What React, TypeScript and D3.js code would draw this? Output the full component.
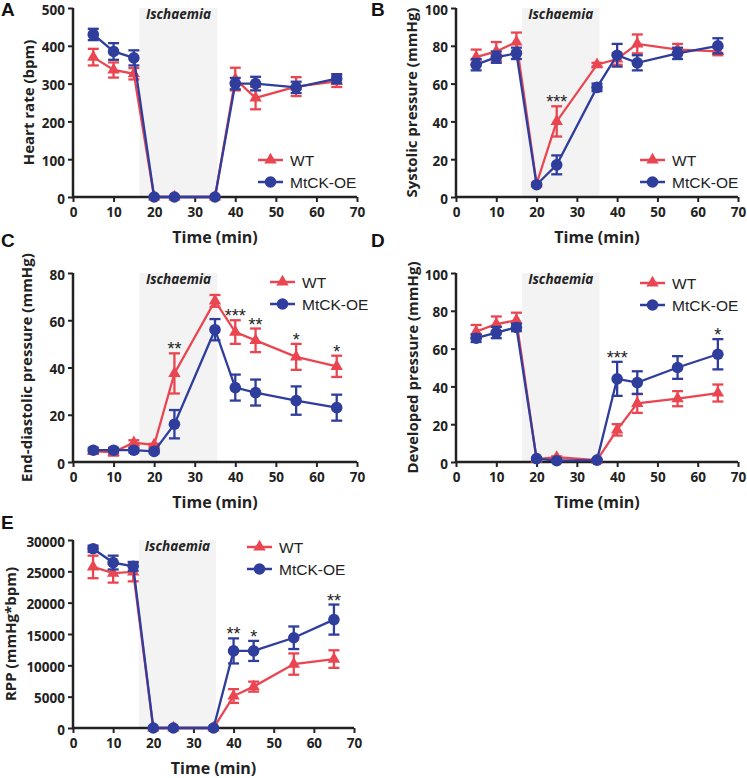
import React, { useRef, useEffect } from "react";
import * as d3 from "d3";

const times = [5, 10, 15, 20, 25, 35, 40, 45, 55, 65];
const xTicks = [0, 10, 20, 30, 40, 50, 60, 70];
const seriesNames = ["WT", "MtCK-OE"];

const hrWT = [370, 336, 326, 0, 0, 0, 312, 262, 292, 306];
const hrWTErr = [22, 20, 15, 0, 0, 0, 30, 30, 25, 15];
const hrKO = [430, 385, 368, 0, 0, 0, 300, 300, 290, 313];
const hrKOErr = [15, 22, 20, 0, 0, 0, 15, 18, 15, 12];

const sysWT = [74, 77, 82, 7, 40, 70, 73, 81, 78, 77];
const sysWTErr = [4, 5, 5, 0.5, 8, 1, 3, 5, 3, 2];
const sysKO = [70, 74, 76, 6.5, 17, 58, 75, 71, 76, 80];
const sysKOErr = [3, 3, 3, 0.5, 5, 2, 6, 4, 3, 4];
const sysStars = [{ t: 25, s: "***" }];

const edpWT = [4.5, 4.2, 8.2, 7.2, 37.5, 68.2, 55, 51.5, 44.5, 40.5];
const edpWTErr = [1, 1.5, 1, 0.5, 8.5, 2.5, 5, 5, 5.5, 4.5];
const edpKO = [5, 5, 5, 4.5, 16, 56, 31.5, 29.4, 26, 23];
const edpKOErr = [1, 1, 1, 0.8, 6, 4.5, 5.5, 5.5, 6, 5.5];
const edpStars = [
	{ t: 25, s: "**" },
	{ t: 40, s: "***" },
	{ t: 45, s: "**" },
	{ t: 55, s: "*" },
	{ t: 65, s: "*" },
];

const devWT = [69, 73, 75, 1.5, 2.5, 1, 17, 31, 33.5, 36.5];
const devWTErr = [3.5, 4, 4, 0.5, 0.5, 0.3, 3, 5, 4, 4.5];
const devKO = [65.5, 68.5, 71.2, 1.8, 0.7, 1, 44, 42, 50, 57];
const devKOErr = [2, 3, 2, 0.5, 0.3, 0.3, 9, 6, 6, 8];
const devStars = [
	{ t: 40, s: "***" },
	{ t: 65, s: "*" },
];

const rppWT = [25700, 24700, 24900, 0, 0, 0, 5100, 6600, 10200, 11000];
const rppWTErr = [1800, 1500, 1500, 0, 0, 0, 1100, 800, 1700, 1400];
const rppKO = [28600, 26400, 25800, 0, 0, 0, 12300, 12300, 14400, 17300];
const rppKOErr = [500, 1100, 700, 0, 0, 0, 2000, 1600, 1800, 2400];
const rppStars = [
	{ t: 40, s: "**" },
	{ t: 45, s: "*" },
	{ t: 65, s: "**" },
];

const ischaemia = [16.4, 35.6];

const RED = "#ea4651";
const BLUE = "#2f3d9c";
const INK = "#222";
const BOLD_FONT = "'Open Sans', 'DejaVu Sans', sans-serif";
const ARIAL = "'Liberation Sans', Arial, sans-serif";

const panels = [
	{
		letter: "A", lx: 1, ly: 16,
		left: 73, right: 357, top: 8, bottom: 197,
		yMax: 500, yStep: 100, title: "Heart rate (bpm)", titleOff: 44,
		wt: hrWT, wtErr: hrWTErr, ko: hrKO, koErr: hrKOErr, stars: [],
		legX: 258, legY: 160,
	},
	{
		letter: "B", lx: 371, ly: 16,
		left: 456, right: 738, top: 8, bottom: 197,
		yMax: 100, yStep: 20, title: "Systolic pressure (mmHg)", titleOff: 44,
		wt: sysWT, wtErr: sysWTErr, ko: sysKO, koErr: sysKOErr, stars: sysStars,
		legX: 640, legY: 160,
	},
	{
		letter: "C", lx: 1, ly: 247,
		left: 73, right: 357, top: 273, bottom: 462,
		yMax: 80, yStep: 20, title: "End-diastolic pressure (mmHg)", titleOff: 46,
		wt: edpWT, wtErr: edpWTErr, ko: edpKO, koErr: edpKOErr, stars: edpStars,
		legX: 270, legY: 282,
	},
	{
		letter: "D", lx: 371, ly: 247,
		left: 456, right: 738, top: 273, bottom: 462,
		yMax: 100, yStep: 20, title: "Developed pressure (mmHg)", titleOff: 43,
		wt: devWT, wtErr: devWTErr, ko: devKO, koErr: devKOErr, stars: devStars,
		legX: 640, legY: 283,
	},
	{
		letter: "E", lx: 1, ly: 529,
		left: 73, right: 354, top: 540, bottom: 728,
		yMax: 30000, yStep: 5000, title: "RPP (mmHg*bpm)", titleOff: 62,
		wt: rppWT, wtErr: rppWTErr, ko: rppKO, koErr: rppKOErr, stars: rppStars,
		legX: 247, legY: 547,
	},
];

const App = () => {
	const svgRef = useRef<SVGSVGElement | null>(null);

	useEffect(() => {
		if (!svgRef.current) return;
		const svg = d3.select(svgRef.current);
		svg.selectAll("*").remove();

		const triangle = d3.symbol().type(d3.symbolTriangle).size(66);

		panels.forEach((p) => {
			const g = svg.append("g");
			const x = d3.scaleLinear().domain([0, 70]).range([p.left, p.right]);
			const y = d3.scaleLinear().domain([0, p.yMax]).range([p.bottom, p.top]);

			// ischaemia band
			g.append("rect")
				.attr("x", x(ischaemia[0]))
				.attr("y", p.top)
				.attr("width", x(ischaemia[1]) - x(ischaemia[0]))
				.attr("height", p.bottom - p.top)
				.attr("fill", "#f3f3f3");
			g.append("text")
				.attr("x", (x(ischaemia[0]) + x(ischaemia[1])) / 2)
				.attr("y", p.top + 11)
				.attr("text-anchor", "middle")
				.style("font-family", BOLD_FONT)
				.style("font-weight", "bold")
				.style("font-style", "italic")
				.style("font-size", "13.5px")
				.attr("fill", INK)
				.text("Ischaemia");

			// axes
			const yTicks = d3.range(0, p.yMax + p.yStep / 2, p.yStep);
			const xAxis = d3.axisBottom(x).tickValues(xTicks).tickSize(5).tickPadding(5).tickFormat(d3.format("d"));
			const yAxis = d3.axisLeft(y).tickValues(yTicks).tickSize(5).tickPadding(3).tickFormat(d3.format("d"));

			const xa = g.append("g").attr("transform", `translate(0,${p.bottom})`).call(xAxis);
			const ya = g.append("g").attr("transform", `translate(${p.left},0)`).call(yAxis);
			[xa, ya].forEach((a) => {
				a.select(".domain").attr("stroke", INK).attr("stroke-width", 2.5);
				a.selectAll(".tick line").attr("stroke", INK).attr("stroke-width", 2);
				a.selectAll(".tick text")
					.attr("fill", INK)
					.style("font-family", BOLD_FONT)
					.style("font-weight", "bold")
					.style("font-size", "13.5px");
			});
			ya.selectAll(".tick text").attr("dy", "0.45em");
			// domains without end ticks
			xa.select(".domain").attr("d", `M${p.left},0H${p.right}`);
			ya.select(".domain").attr("d", `M0,${p.bottom}V${p.top}`);

			g.append("text")
				.attr("x", (p.left + p.right) / 2)
				.attr("y", p.bottom + 46)
				.attr("text-anchor", "middle")
				.style("font-family", BOLD_FONT)
				.style("font-weight", "bold")
				.style("font-size", "16px")
				.attr("fill", INK)
				.text("Time (min)");

			g.append("text")
				.attr("transform", `translate(${p.left - p.titleOff},${(p.top + p.bottom) / 2}) rotate(-90)`)
				.attr("text-anchor", "middle")
				.attr("dy", "0.35em")
				.style("font-family", BOLD_FONT)
				.style("font-weight", "bold")
				.style("font-size", "15px")
				.attr("fill", INK)
				.text(p.title);

			g.append("text")
				.attr("x", p.lx)
				.attr("y", p.ly)
				.style("font-family", ARIAL)
				.style("font-weight", "bold")
				.style("font-size", "19px")
				.attr("fill", "#111")
				.text(p.letter);

			const series = [
				{ vals: p.wt, errs: p.wtErr, color: RED, marker: "tri" },
				{ vals: p.ko, errs: p.koErr, color: BLUE, marker: "circ" },
			];

			series.forEach((s) => {
				const pts = times.map((t, i) => ({ t, v: s.vals[i], e: s.errs[i] }));
				const line = d3
					.line<{ t: number; v: number }>()
					.x((d) => x(d.t))
					.y((d) => y(d.v));
				g.append("path")
					.datum(pts)
					.attr("d", line)
					.attr("fill", "none")
					.attr("stroke", s.color)
					.attr("stroke-width", 2.3);

				const eb = g.append("g").attr("stroke", s.color).attr("stroke-width", 2.3);
				pts.filter((d) => d.e > 0).forEach((d) => {
					const lo = y(Math.max(0, d.v - d.e));
					const hi = y(d.v + d.e);
					eb.append("line").attr("x1", x(d.t)).attr("x2", x(d.t)).attr("y1", lo).attr("y2", hi);
					eb.append("line").attr("x1", x(d.t) - 5.5).attr("x2", x(d.t) + 5.5).attr("y1", hi).attr("y2", hi);
					eb.append("line").attr("x1", x(d.t) - 5.5).attr("x2", x(d.t) + 5.5).attr("y1", lo).attr("y2", lo);
				});

				pts.forEach((d) => {
					if (s.marker === "tri") {
						g.append("path")
							.attr("d", triangle()!)
							.attr("transform", `translate(${x(d.t)},${y(d.v)})`)
							.attr("fill", s.color);
					} else {
						g.append("circle").attr("cx", x(d.t)).attr("cy", y(d.v)).attr("r", 5.8).attr("fill", s.color);
					}
				});
			});

			// significance stars
			p.stars.forEach((st) => {
				const i = times.indexOf(st.t);
				const top = Math.max(p.wt[i] + p.wtErr[i], p.ko[i] + p.koErr[i]);
				g.append("text")
					.attr("x", x(st.t))
					.attr("y", y(top) + 2)
					.attr("text-anchor", "middle")
					.style("font-family", ARIAL)
					.style("font-size", "18px")
					.attr("fill", INK)
					.text(st.s);
			});

			// legend
			series.forEach((s, k) => {
				const ly = p.legY + k * 22;
				const lg = g.append("g");
				lg.append("line")
					.attr("x1", p.legX)
					.attr("x2", p.legX + 25)
					.attr("y1", ly)
					.attr("y2", ly)
					.attr("stroke", s.color)
					.attr("stroke-width", 2.5);
				if (s.marker === "tri") {
					lg.append("path")
						.attr("d", triangle()!)
						.attr("transform", `translate(${p.legX + 12.5},${ly})`)
						.attr("fill", s.color);
				} else {
					lg.append("circle").attr("cx", p.legX + 12.5).attr("cy", ly).attr("r", 5.8).attr("fill", s.color);
				}
				lg.append("text")
					.attr("x", p.legX + 32)
					.attr("y", ly)
					.attr("dy", "0.36em")
					.style("font-family", ARIAL)
					.style("font-size", "15.5px")
					.attr("fill", INK)
					.text(seriesNames[k]);
			});
		});
	}, []);

	return (
		<div style={{ position: "absolute", left: 0, top: 0, width: 747, height: 778, background: "#fff" }}>
			<svg ref={svgRef} width={747} height={778}></svg>
		</div>
	);
};

export default App;
